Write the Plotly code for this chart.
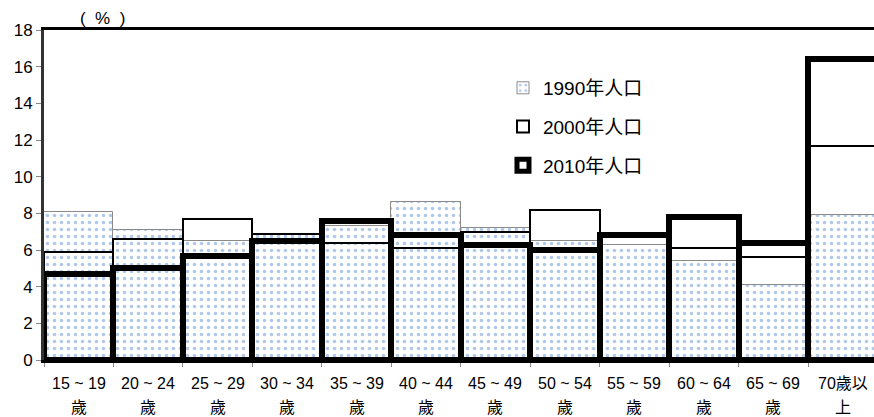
import plotly.graph_objects as go

# Age groups (x axis categories) and their two-line labels
age_groups = ["15-19", "20-24", "25-29", "30-34", "35-39", "40-44",
              "45-49", "50-54", "55-59", "60-64", "65-69", "70+"]
label_line1 = ["15 ~ 19", "20 ~ 24", "25 ~ 29", "30 ~ 34", "35 ~ 39", "40 ~ 44",
               "45 ~ 49", "50 ~ 54", "55 ~ 59", "60 ~ 64", "65 ~ 69", "70歲以"]
label_line2 = ["歲", "歲", "歲", "歲", "歲", "歲", "歲", "歲", "歲", "歲", "歲", "上"]

# Share of population by age group (%)
pop_1990 = [8.1, 7.1, 6.5, 6.8, 7.3, 8.6, 7.2, 6.5, 6.3, 5.4, 4.1, 7.9]
pop_2000 = [5.9, 6.6, 7.7, 6.9, 6.4, 6.1, 7.0, 8.2, 6.7, 6.1, 5.6, 11.7]
pop_2010 = [4.7, 5.0, 5.7, 6.5, 7.6, 6.8, 6.3, 6.0, 6.8, 7.8, 6.4, 16.4]

series_names = ["1990年人口", "2000年人口", "2010年人口"]
y_ticks = [0, 2, 4, 6, 8, 10, 12, 14, 16, 18]

FONT = "Liberation Sans, Arial, Noto Sans CJK TC, sans-serif"
NBSP = "\u00a0"

fig = go.Figure()

fig.add_trace(go.Bar(
    x=age_groups, y=pop_1990, name=series_names[0],
    legendgroup="a",
    marker=dict(
        color="white",
        line=dict(color="#8a8a8a", width=1),
        pattern=dict(shape=".", fgcolor="#5f8fd4", bgcolor="white",
                     size=7, solidity=0.2, fillmode="overlay"),
    ),
))
fig.add_trace(go.Bar(
    x=age_groups, y=pop_2000, name=series_names[1],
    legendgroup="b",
    marker=dict(color="rgba(0,0,0,0)", line=dict(color="black", width=2)),
))
fig.add_trace(go.Bar(
    x=age_groups, y=pop_2010, name=series_names[2],
    legendgroup="c",
    marker=dict(color="rgba(0,0,0,0)", line=dict(color="black", width=6)),
))

# Unit label and two-line category labels under the axis
annotations = [dict(
    text="(" + NBSP * 2 + "%" + NBSP * 2 + ")",
    x=0.07, y=1.0, xref="paper", yref="paper",
    xanchor="center", yanchor="bottom", yshift=0, showarrow=False,
    font=dict(size=17, family=FONT),
)]
for cat, l1, l2 in zip(age_groups, label_line1, label_line2):
    annotations.append(dict(
        text=l1, x=cat, y=0, xref="x", yref="paper",
        xanchor="center", yanchor="middle", yshift=-23, showarrow=False,
        font=dict(size=16, family=FONT),
    ))
    annotations.append(dict(
        text=l2, x=cat, y=0, xref="x", yref="paper",
        xanchor="center", yanchor="middle", yshift=-47, showarrow=False,
        font=dict(size=16, family=FONT),
    ))

fig.update_layout(
    width=874, height=417,
    margin=dict(l=44, r=0, t=30, b=57),
    barmode="overlay", bargap=0,
    plot_bgcolor="white", paper_bgcolor="white",
    font=dict(family=FONT, size=14, color="black"),
    showlegend=True,
    legend=dict(
        x=0.553, y=0.882, xanchor="left", yanchor="top",
        bgcolor="rgba(0,0,0,0)",
        font=dict(size=19, family=FONT),
        traceorder="grouped", tracegroupgap=11,
        itemwidth=30,
    ),
    annotations=annotations,
)

fig.update_xaxes(
    type="category", tickson="boundaries",
    range=[-0.5, 11.45],
    showline=True, linecolor="black", linewidth=3, mirror=True,
    ticks="outside", ticklen=4, tickcolor="#888888", tickwidth=1,
    showticklabels=False,
    showgrid=False,
)
fig.update_yaxes(
    range=[0, 18], tickvals=y_ticks,
    showline=True, linecolor="#333333", linewidth=3,
    ticks="outside", ticklen=5, tickcolor="#888888", tickwidth=1,
    tickfont=dict(size=17, family=FONT),
    showgrid=False, zeroline=False,
)

fig.write_html("out.html")
